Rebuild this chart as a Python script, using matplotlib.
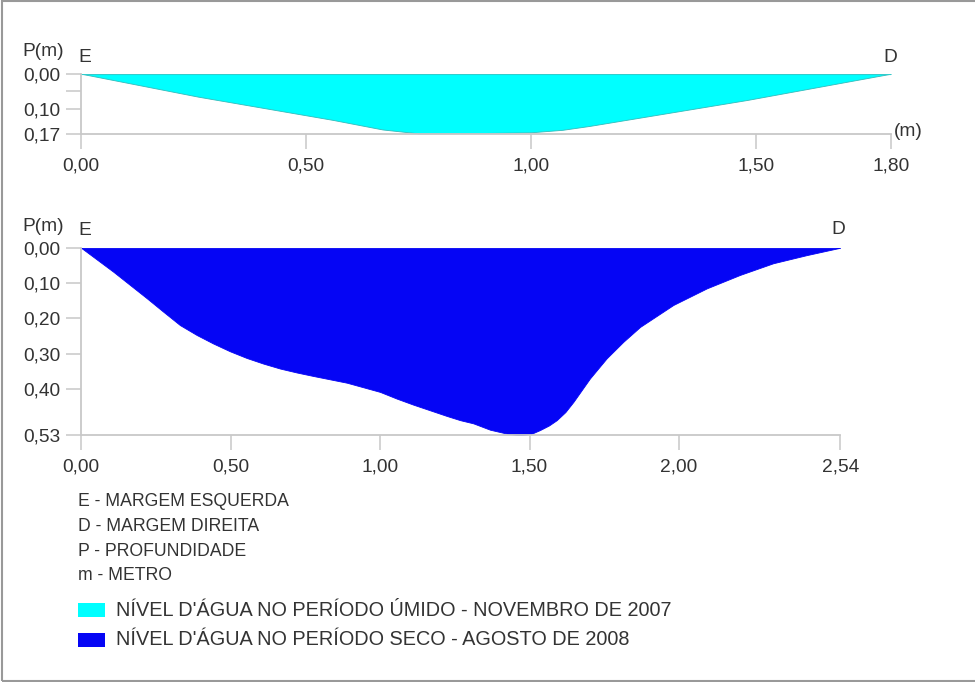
import matplotlib
matplotlib.use("Agg")
import matplotlib.pyplot as plt
from matplotlib.patches import Rectangle

plt.rcParams['font.family'] = ['Liberation Sans', 'DejaVu Sans']

# Wet period (November 2007) cross-section: distance (m) vs depth (m)
wet_x = [0.00, 0.26, 0.56, 0.67, 0.75, 0.89, 1.00, 1.07, 1.13, 1.48, 1.80]
wet_depth = [0.000, 0.065, 0.131, 0.158, 0.169, 0.168, 0.166, 0.159, 0.148, 0.0745, 0.000]

# Dry period (August 2008) cross-section
dry_x = [0.000, 0.108, 0.220, 0.275, 0.331, 0.387, 0.442, 0.498, 0.554, 0.610,
         0.666, 0.721, 0.777, 0.889, 1.000, 1.056, 1.111, 1.167, 1.223, 1.268,
         1.312, 1.368, 1.424, 1.468, 1.505, 1.535, 1.565, 1.591, 1.620, 1.647,
         1.702, 1.758, 1.814, 1.870, 1.981, 2.093, 2.204, 2.315, 2.427, 2.540]
dry_depth = [0.000, 0.068, 0.143, 0.181, 0.219, 0.247, 0.271, 0.293, 0.312, 0.328,
             0.342, 0.353, 0.363, 0.382, 0.408, 0.427, 0.444, 0.460, 0.476, 0.488,
             0.497, 0.515, 0.526, 0.531, 0.527, 0.516, 0.503, 0.488, 0.465, 0.436,
             0.370, 0.313, 0.266, 0.224, 0.162, 0.115, 0.077, 0.044, 0.021, 0.000]

wet_xticks = [0.0, 0.5, 1.0, 1.5, 1.8]
wet_xlabels = ['0,00', '0,50', '1,00', '1,50', '1,80']
wet_yticks = [0.0, 0.05, 0.10, 0.17]
wet_ylabels = ['0,00', '', '0,10', '0,17']

dry_xticks = [0.0, 0.5, 1.0, 1.5, 2.0, 2.54]
dry_xlabels = ['0,00', '0,50', '1,00', '1,50', '2,00', '2,54']
dry_yticks = [0.0, 0.10, 0.20, 0.30, 0.40, 0.53]
dry_ylabels = ['0,00', '0,10', '0,20', '0,30', '0,40', '0,53']

notes = ['E - MARGEM ESQUERDA', 'D - MARGEM DIREITA', 'P - PROFUNDIDADE', 'm - METRO']
legend_labels = ["NÍVEL D'ÁGUA NO PERÍODO ÚMIDO - NOVEMBRO DE 2007",
                 "NÍVEL D'ÁGUA NO PERÍODO SECO - AGOSTO DE 2008"]

CYAN = '#00FFFF'
BLUE = '#0505F5'
GRID = '#c8c8c8'
TXT = '#333333'
FS_TICK = 13.8
FS_LBL = 13.8
FS_NOTE = 12.7
FS_LEG = 14.3

W, H = 975, 682
fig = plt.figure(figsize=(W / 100, H / 100), dpi=100)


def fx(px):
    return px / W


def fy(py):
    return 1 - py / H


def style(ax, xt, xl, yt, yl, xmax, ymax):
    ax.set_xlim(0, xmax)
    ax.set_ylim(ymax, 0)
    for s in ['top', 'right']:
        ax.spines[s].set_visible(False)
    for s in ['left', 'bottom']:
        ax.spines[s].set_color(GRID)
        ax.spines[s].set_linewidth(1.3)
    ax.set_xticks(xt)
    ax.set_xticklabels(xl)
    ax.set_yticks(yt)
    ax.set_yticklabels(yl)
    ax.tick_params(axis='both', direction='out', length=11, width=1.1,
                   color=GRID, labelcolor=TXT, labelsize=FS_TICK)
    ax.tick_params(axis='y', pad=4)
    ax.tick_params(axis='x', pad=6)
    ax.patch.set_alpha(0)


# Top axes (wet period)
l = fx(81)
ax1 = fig.add_axes([l, fy(133.7), 810 / W, 60 / H])
ax1.fill_between(wet_x, 0, wet_depth, facecolor=CYAN, edgecolor='#33bbbb', linewidth=0.6)
style(ax1, wet_xticks, wet_xlabels, wet_yticks, wet_ylabels, 1.8, 0.17)
ax1.axhline(0, color='#33cccc', lw=0.8)

# Bottom axes (dry period)
ax2 = fig.add_axes([l, fy(435), 2.54 * 299 / W, 187.3 / H])
ax2.fill_between(dry_x, 0, dry_depth, facecolor=BLUE, edgecolor=BLUE, linewidth=0.6)
style(ax2, dry_xticks, dry_xlabels, dry_yticks, dry_ylabels, 2.54, 0.53)

# Annotations
fig.text(fx(22), fy(51), 'P(m)', fontsize=FS_LBL, color=TXT, va='center', ha='left')
fig.text(fx(78), fy(57), 'E', fontsize=FS_LBL, color=TXT, va='center', ha='left')
fig.text(fx(883), fy(57), 'D', fontsize=FS_LBL, color=TXT, va='center', ha='left')
fig.text(fx(894), fy(131), '(m)', fontsize=FS_LBL, color=TXT, va='center', ha='left')

fig.text(fx(22), fy(227), 'P(m)', fontsize=FS_LBL, color=TXT, va='center', ha='left')
fig.text(fx(78), fy(231), 'E', fontsize=FS_LBL, color=TXT, va='center', ha='left')
fig.text(fx(831), fy(230), 'D', fontsize=FS_LBL, color=TXT, va='center', ha='left')

for i, t in enumerate(notes):
    fig.text(fx(78), fy(502 + 24.5 * i), t, fontsize=FS_NOTE, color=TXT, va='center', ha='left')

for i, (lab, col) in enumerate(zip(legend_labels, [CYAN, BLUE])):
    yc = 610 + 29.5 * i
    fig.patches.append(Rectangle((fx(78), fy(yc + 7)), 27 / W, 14 / H,
                                 transform=fig.transFigure, facecolor=col,
                                 edgecolor='none'))
    fig.text(fx(116), fy(yc), lab, fontsize=FS_LEG, color=TXT, va='center', ha='left')

# Outer frame (right side cut off)
fig.patches.append(Rectangle((fx(1.5), fy(680.5)), 1.2, (679.5) / H,
                             transform=fig.transFigure, facecolor='none',
                             edgecolor='#999999', linewidth=1.5))

fig.savefig('out.png', dpi=100)
